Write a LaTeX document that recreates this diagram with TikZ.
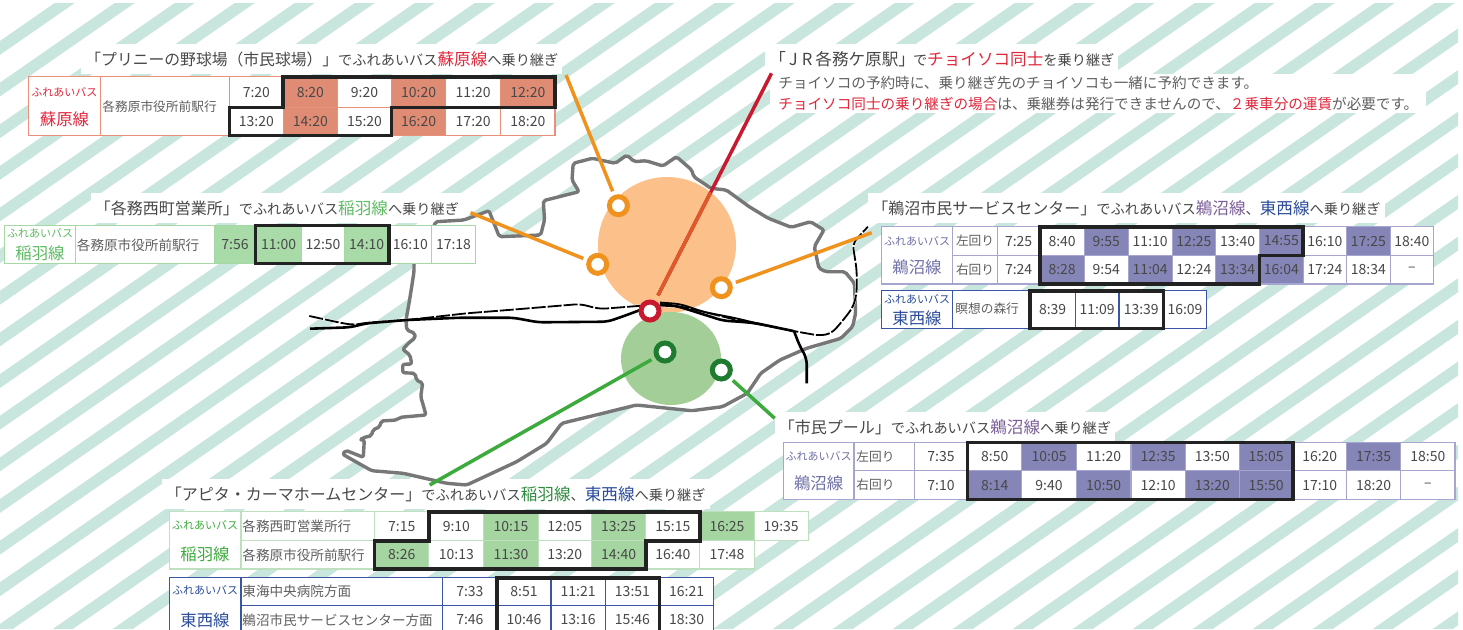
\documentclass[tikz,border=0pt]{standalone}
\usepackage{fontspec}
\setmainfont{Noto Sans CJK JP}
\definecolor{stripe}{HTML}{C8E6DE}
\definecolor{ink}{HTML}{484848}
\definecolor{soft}{HTML}{606060}
\definecolor{mapline}{HTML}{777777}
\definecolor{orgfill}{HTML}{FCC08A}
\definecolor{grnfill}{HTML}{A3CE98}
\definecolor{orgline}{HTML}{F0921E}
\definecolor{grnline}{HTML}{3DAA3D}
\definecolor{grnmark}{HTML}{1E7B30}
\definecolor{redline}{HTML}{C8192E}
\definecolor{redmix}{HTML}{DE5A2B}
\definecolor{txtred}{HTML}{E0283C}
\definecolor{salmonb}{HTML}{E8907A}
\definecolor{salmonf}{HTML}{E08C74}
\definecolor{leafb}{HTML}{A5D8A5}
\definecolor{leaff}{HTML}{A9DBA8}
\definecolor{leafc}{HTML}{5DBB63}
\definecolor{paleb}{HTML}{BFE0BF}
\definecolor{palef}{HTML}{A5D5A0}
\definecolor{lavb}{HTML}{A5A5D0}
\definecolor{lavf}{HTML}{8585B8}
\definecolor{lavc}{HTML}{6F6FA8}
\definecolor{lilac}{HTML}{7B5E9A}
\definecolor{blueb}{HTML}{3A55A5}
\definecolor{bluec}{HTML}{2B4C9B}
\definecolor{dgreen}{HTML}{2E8B3E}
\definecolor{thick}{HTML}{222222}
\newcounter{cellno}
\newcommand{\szL}{\fontsize{8.3pt}{10pt}\selectfont}
\newcommand{\szK}{\fontsize{8pt}{10pt}\selectfont}
\newcommand{\szA}{\fontsize{7.9pt}{10pt}\selectfont}
\newcommand{\szS}{\fontsize{7.1pt}{9pt}\selectfont}
\newcommand{\szE}{\fontsize{7.3pt}{9pt}\selectfont}
\newcommand{\szN}{\fontsize{6.8pt}{9pt}\selectfont}
\newcommand{\szT}{\fontsize{7pt}{9pt}\selectfont}
\newcommand{\szD}{\fontsize{6.35pt}{9pt}\selectfont}
\newcommand{\szB}{\fontsize{5.5pt}{7pt}\selectfont}
\newcommand{\szH}{\fontsize{8.2pt}{10pt}\selectfont}
% \cellbox{x0}{y0}{x1}{y1}{fill}{text}
\newcommand{\cellbox}[6]{\stepcounter{cellno}%
  \draw[cellline,fill=#5] (#1,#2) rectangle (#3,#4)
    node[midway,celltext,name=c\arabic{cellno}] {#6};}
\newcommand{\timerow}[3]{\foreach \xa/\xb/\tx/\fc in {#3}{\cellbox{\xa}{#1}{\xb}{#2}{\fc}{\szT\tx}}}
\tikzset{
  x=0.5pt,y=-0.5pt,
  cellline/.style={line width=0.55pt},
  celltext/.style={inner sep=0pt,text=ink},
  thickframe/.style={draw=thick,line width=1.8pt,line join=miter},
  titlebg/.style={fill=white,anchor=west,inner xsep=2pt,inner ysep=0pt,minimum height=15pt,text=ink},
  marker/.style={circle,draw=#1,fill=white,line width=2.5pt,minimum size=9pt,inner sep=0pt},
  feeder/.style={line width=1.75pt,shorten <=2pt},
  plainlabel/.style={inner sep=0pt},
  destlabel/.style={inner sep=0pt,anchor=west,text=soft},
  mapedge/.style={draw=mapline,line width=1.7pt,line join=round,fill=white,rounded corners=1pt},
  railsolid/.style={draw=black,line width=1.3pt,line join=round,rounded corners=3pt},
  railbase/.style={draw=white,line width=1.3pt,line join=round,rounded corners=3pt},
  raildash/.style={draw=black,line width=0.9pt,dash pattern=on 7pt off 1pt,line join=round,rounded corners=3pt},
}
\begin{document}
\begin{tikzpicture}
\clip (0,0) rectangle (1463,629);
\fill[white] (0,0) rectangle (1463,629);
% stripes
\begin{scope}
  \clip (0,3) rectangle (1458,629);
  \foreach \k in {0,...,40}{
    \pgfmathsetmacro\stc{59+60*\k}
    \fill[stripe] (\stc,0) -- (\stc+20,0) -- (\stc+20-906.3,629) -- (\stc-906.3,629) -- cycle;
  }
\end{scope}
% titles
\node[titlebg] (tA) at (81,59) {\szA 「プリニーの野球場（市民球場）」\szS でふれあいバス\textcolor{txtred}{\szL 蘇原線}\szS へ乗り継ぎ};
\node[titlebg] (tB) at (90.4,208) {\szK 「各務西町営業所」\szS でふれあいバス\textcolor{leafc}{\szL 稲羽線}\szS へ乗り継ぎ};
\node[titlebg] (tC) at (765,59) {\szL 「\hspace{1.5pt}J\hspace{2pt}R\hspace{1.5pt}各務ケ原駅」\hspace{-1pt}\szS で\textcolor{txtred}{\szL チョイソコ同士}\szS を乗り継ぎ};
\node[titlebg,minimum height=19.5pt,align=left,text=soft,inner xsep=4pt] (tC2) at (770,93) {\szE チョイソコの予約時に、乗り継ぎ先のチョイソコも一緒に予約できます。\\[-1.5pt]\szE\textcolor{txtred}{チョイソコ同士の乗り継ぎの場合}は、乗継券は発行できませんので、\textcolor{txtred}{２乗車分の運賃}が必要です。};
\node[titlebg] (tD) at (868,208) {\szK 「鵜沼市民サービスセンター」\szS でふれあいバス\textcolor{lilac}{\szL 鵜沼線}\szS 、\textcolor{bluec}{\szL 東西線}\szS へ乗り継ぎ};
\node[titlebg] (tF) at (774.5,427) {\szK 「市民プール」\szS でふれあいバス\textcolor{lilac}{\szL 鵜沼線}\szS へ乗り継ぎ};
\node[titlebg] (tG) at (161.5,494) {\szK 「アピタ・カーマホームセンター」\szS でふれあいバス\textcolor{dgreen}{\szL 稲羽線}\szS 、\textcolor{bluec}{\szL 東西線}\szS へ乗り継ぎ};
% map
\draw[mapedge] (435.4,221.7) -- (464,220) -- (489,210.7) -- (499.3,236.7) -- (540.7,235) -- (544.5,220) -- (543.3,200.7) -- (579,191.7) -- (572,180) -- (573.2,163.3) -- (592.3,158.3) -- (615.3,163.3) -- (626.8,155) -- (634.4,161.7) -- (645.9,160.7) -- (663,166) -- (676.5,156.7) -- (691.8,170) -- (693.7,176.7) -- (711,188.3) -- (726.3,190) -- (749.2,206.7) -- (768.4,218.3) -- (791.3,227.3) -- (810.5,221.7) -- (823.9,230) -- (814.3,246.7) -- (818.9,268.3) -- (825.8,271.7) -- (844.9,271.7) -- (854.5,283.3) -- (855.6,313.3) -- (852.6,326.7) -- (841,338.3) -- (806.6,348.3) -- (779.9,360) -- (760.7,373.3) -- (747.3,393.3) -- (722.5,406.7) -- (691.8,410.7) -- (636.3,405) -- (600,414) -- (561.7,423.3) -- (546.7,443.3) -- (516.7,461.7) -- (466.7,485) -- (446.7,483.3) -- (403.3,473.3) -- (371.7,470.7) -- (342.7,454.3) -- (345.7,450.3) -- (363.3,457.3) -- (364.3,440) -- (360,440) -- (363,437.7) -- (371.7,435.7) -- (372.7,430) -- (380,426.7) -- (381,421) -- (396.7,420) -- (400,417.3) -- (426,415) -- (422.7,403.3) -- (420.7,396.7) -- (422.7,382.7) -- (416.7,380.7) -- (415,373.3) -- (402.7,372.7) -- (402.7,364.3) -- (411.7,364) -- (410,355) -- (402.7,349.3) -- (410,341.7) -- (415,338.3) -- (415,333.3) -- (406.7,330) -- (406,320) -- (409.3,301.7) -- (411.7,286.7) -- (414,271.7) -- (414,262) -- (430,240) -- cycle;
% service areas
\fill[orgfill] (667,245) ellipse [x radius=69,y radius=68];
\fill[grnfill] (671,358.5) ellipse [x radius=50,y radius=46.5];
% rail
\path[railbase] (309.3,316) -- (340,322.7) -- (353.3,325) -- (366.7,322.7) -- (406.7,320) -- (466.7,313.3) -- (516.7,309.3) -- (580,304) -- (600,309) -- (650,305) -- (683,306.7) -- (736.7,320) -- (793.3,331) -- (820,335.7) -- (831.7,333.3) -- (843.3,320) -- (853.3,306.7) -- (856.7,293.3) -- (856.7,270) -- (852.6,243.3) -- (867.9,226.7);
\draw[raildash] (309.3,316) -- (340,322.7) -- (353.3,325) -- (366.7,322.7) -- (406.7,320) -- (466.7,313.3) -- (516.7,309.3) -- (580,304) -- (600,309) -- (650,305) -- (683,306.7) -- (736.7,320) -- (793.3,331) -- (820,335.7) -- (831.7,333.3) -- (843.3,320) -- (853.3,306.7) -- (856.7,293.3) -- (856.7,270) -- (852.6,243.3) -- (867.9,226.7);
\draw[railsolid] (310,328.7) -- (350,327.3) -- (366.7,323.3) -- (406.7,320) -- (460,317.7) -- (513.3,317.7) -- (538.3,322.3) -- (607.6,321.7) -- (626.8,315) -- (640,310);
\draw[railsolid] (660,304.3) -- (676.7,306) -- (700,313.3) -- (723.3,320.7) -- (740,321.7) -- (756.7,323.3) -- (793.3,331);
\draw[railsolid,line width=0.9pt] (660,302.5) -- (680,304) -- (704,312) -- (735,318) -- (760,324);
\draw[railsolid] (794,331) -- (799.3,345) -- (806.7,358.3) -- (806.7,383.3);
% markers
\node[marker=orgline] (m1) at (618.4,205.7) {};
\node[marker=orgline] (m2) at (597.7,264.3) {};
\node[marker=orgline] (m3) at (721.3,287.7) {};
\node[marker=redline] (m0) at (650,311) {};
\node[marker=grnmark] (m4) at (665,352) {};
\node[marker=grnmark] (m5) at (721.3,370) {};
% free ends
\coordinate (e1) at (566,75);
\coordinate (e2) at (470.6,212.7);
\coordinate (e3) at (871.7,232.7);
\coordinate (e0) at (771.5,73.3);
\coordinate (e4) at (429.7,485);
\coordinate (e5) at (774.7,418.3);
% connectors
\draw[feeder,orgline] (m1) -- (e1);
\draw[feeder,orgline] (m2) -- (e2);
\draw[feeder,orgline] (m3) -- (e3);
\draw[feeder,redline,shorten <=3pt] (m0) -- (e0);
\begin{scope}
  \clip (667,245) ellipse [x radius=69,y radius=68];
  \draw[feeder,redmix,shorten <=3pt] (m0) -- (e0);
\end{scope}
\draw[feeder,grnline] (m4) -- (e4);
\draw[feeder,grnline] (m5) -- (e5);
% table A: soharasen
\begin{scope}[cellline/.append style={draw=salmonb}]
  \cellbox{28.7}{76.7}{100.3}{135.3}{white}{}
  \node[plainlabel,text=txtred] (lA1) at (64.5,92) {\szB ふれあいバス};
  \node[plainlabel,text=txtred] (lA2) at (64.5,119) {\szH 蘇原線};
  \cellbox{100.3}{76.7}{229.6}{135.3}{white}{}
  \node[destlabel] (lA3) at (102,107) {\szD 各務原市役所前駅行};
  \timerow{76.7}{107.3}{229.6/283.2/7:20/white,283.2/337.5/8:20/salmonf,337.5/391.5/9:20/white,391.5/445.8/10:20/salmonf,445.8/500.6/11:20/white,500.6/555/12:20/salmonf}
  \timerow{107.3}{135.3}{229.6/283.2/13:20/white,283.2/337.5/14:20/salmonf,337.5/391.5/15:20/white,391.5/445.8/16:20/salmonf,445.8/500.6/17:20/white,500.6/555/18:20/white}
\end{scope}
\path[thickframe] (283.2,76.7) -- (555,76.7) -- (555,107.3) -- (391.5,107.3) -- (391.5,135.3) -- (229.6,135.3) -- (229.6,107.3) -- (283.2,107.3) -- cycle;
% table B: inabasen
\begin{scope}[cellline/.append style={draw=leafb}]
  \cellbox{4.6}{225.3}{75.8}{263.3}{white}{}
  \node[plainlabel,text=leafc] (lB1) at (40,233) {\szB ふれあいバス};
  \node[plainlabel,text=leafc] (lB2) at (40,253.5) {\szH 稲羽線};
  \cellbox{75.8}{225.3}{214.3}{263.3}{white}{}
  \node[destlabel] (lB3) at (76.5,245) {\szN 各務原市役所前駅行};
  \timerow{225.3}{263.3}{214.3/255.6/7:56/leaff,255.6/301.6/11:00/leaff,301.6/344.4/12:50/white,344.4/389/14:10/leaff,389/431.7/16:10/white,431.7/475.3/17:18/white}
\end{scope}
\path[thickframe] (255.6,225.3) rectangle (389,263.3);
% table D: unumasen
\begin{scope}[cellline/.append style={draw=lavb}]
  \cellbox{881.4}{226.7}{952.8}{284}{white}{}
  \node[plainlabel,text=lavc] (lD1) at (917,241) {\szB ふれあいバス};
  \node[plainlabel,text=lavc] (lD2) at (917,267) {\szH 鵜沼線};
  \cellbox{952.8}{226.7}{997.3}{255.3}{white}{\szD\textcolor{soft}{左回り}}
  \cellbox{952.8}{255.3}{997.3}{284}{white}{\szD\textcolor{soft}{右回り}}
  \timerow{226.7}{255.3}{997.3/1039.9/7:25/white,1039.9/1084.3/8:40/white,1084.3/1128.2/9:55/lavf,1128.2/1172.2/11:10/white,1172.2/1215.7/12:25/lavf,1215.7/1259.6/13:40/white,1259.6/1303.1/14:55/lavf,1303.1/1346.6/16:10/white,1346.6/1390.1/17:25/lavf,1390.1/1433.6/18:40/white}
  \timerow{255.3}{284}{997.3/1039.9/7:24/white,1039.9/1084.3/8:28/lavf,1084.3/1128.2/9:54/white,1128.2/1172.2/11:04/lavf,1172.2/1215.7/12:24/white,1215.7/1259.6/13:34/lavf,1259.6/1303.1/16:04/lavf,1303.1/1346.6/17:24/white,1346.6/1390.1/18:34/white,1390.1/1433.6/–/white}
\end{scope}
\path[thickframe] (1039.9,226.7) -- (1303.1,226.7) -- (1303.1,255.3) -- (1259.6,255.3) -- (1259.6,284) -- (1039.9,284) -- cycle;
% table E: tozaisen
\begin{scope}[cellline/.append style={draw=blueb}]
  \cellbox{881.4}{290.7}{952.8}{328.3}{white}{}
  \node[plainlabel,text=bluec] (lE1) at (917,299.3) {\szB ふれあいバス};
  \node[plainlabel,text=bluec] (lE2) at (917,318.5) {\szH 東西線};
  \cellbox{952.8}{290.7}{1030.2}{328.3}{white}{}
  \node[destlabel] (lE3) at (955,309) {\szD 瞑想の森行};
  \timerow{290.7}{328.3}{1030.2/1075.1/8:39/white,1075.1/1119/11:09/white,1119/1163.5/13:39/white,1163.5/1206.5/16:09/white}
\end{scope}
\path[thickframe] (1030.2,290.7) rectangle (1163.5,328.3);
% table F: pool
\begin{scope}[cellline/.append style={draw=lavb}]
  \cellbox{783.3}{442.3}{854}{499.3}{white}{}
  \node[plainlabel,text=lavc] (lF1) at (818.6,456.5) {\szB ふれあいバス};
  \node[plainlabel,text=lavc] (lF2) at (818.6,483) {\szH 鵜沼線};
  \cellbox{854}{442.3}{914.5}{470.7}{white}{}
  \cellbox{854}{470.7}{914.5}{499.3}{white}{}
  \node[destlabel] (lF3) at (856,456.5) {\szD 左回り};
  \node[destlabel] (lF4) at (856,485) {\szD 右回り};
  \timerow{442.3}{470.7}{914.5/967.5/7:35/white,967.5/1021.9/8:50/white,1021.9/1076.2/10:05/lavf,1076.2/1131/11:20/white,1131/1185.4/12:35/lavf,1185.4/1239.3/13:50/white,1239.3/1292.8/15:05/lavf,1292.8/1346.7/16:20/white,1346.7/1400.6/17:35/lavf,1400.6/1455/18:50/white}
  \timerow{470.7}{499.3}{914.5/967.5/7:10/white,967.5/1021.9/8:14/lavf,1021.9/1076.2/9:40/white,1076.2/1131/10:50/lavf,1131/1185.4/12:10/white,1185.4/1239.3/13:20/lavf,1239.3/1292.8/15:50/lavf,1292.8/1346.7/17:10/white,1346.7/1400.6/18:20/white,1400.6/1455/–/white}
\end{scope}
\path[thickframe] (967.5,442.3) rectangle (1292.8,499.3);
% table G: apita inabasen
\begin{scope}[cellline/.append style={draw=paleb}]
  \cellbox{169.5}{511.7}{241}{569}{white}{}
  \node[plainlabel,text=grnline] (lG1) at (205,525) {\szB ふれあいバス};
  \node[plainlabel,text=grnline] (lG2) at (205,554.3) {\szH 稲羽線};
  \cellbox{241}{511.7}{374.6}{540.7}{white}{}
  \node[destlabel] (lG3) at (242,526) {\szN 各務西町営業所行};
  \cellbox{241}{540.7}{374.6}{569}{white}{}
  \node[destlabel] (lG4) at (242,555) {\szN 各務原市役所前駅行};
  \timerow{511.7}{540.7}{374.6/428.8/7:15/white,428.8/483.9/9:10/white,483.9/538.1/10:15/palef,538.1/591.4/12:05/white,591.4/645.7/13:25/palef,645.7/699.9/15:15/white,699.9/754.1/16:25/palef,754.1/808.3/19:35/white}
  \timerow{540.7}{569}{374.6/428.8/8:26/palef,428.8/483.9/10:13/white,483.9/538.1/11:30/palef,538.1/591.4/13:20/white,591.4/645.7/14:40/palef,645.7/699.9/16:40/white,699.9/754.1/17:48/white}
\end{scope}
\path[thickframe] (428.8,511.7) -- (699.9,511.7) -- (699.9,540.7) -- (645.7,540.7) -- (645.7,569) -- (374.6,569) -- (374.6,540.7) -- (428.8,540.7) -- cycle;
% table H: apita tozaisen
\begin{scope}[cellline/.append style={draw=blueb}]
  \cellbox{169.5}{577.7}{241}{640}{white}{}
  \node[plainlabel,text=bluec] (lH1) at (205,590.7) {\szB ふれあいバス};
  \node[plainlabel,text=bluec] (lH2) at (205,620) {\szH 東西線};
  \cellbox{241}{577.7}{442.7}{605.7}{white}{}
  \node[destlabel] (lH3) at (242,591) {\szN 東海中央病院方面};
  \cellbox{241}{605.7}{442.7}{640}{white}{}
  \node[destlabel] (lH4) at (242,620) {\szN 鵜沼市民サービスセンター方面};
  \timerow{577.7}{605.7}{442.7/497/7:33/white,497/551/8:51/white,551/605.3/11:21/white,605.3/659.6/13:51/white,659.6/713.7/16:21/white}
  \timerow{605.7}{634}{442.7/497/7:46/white,497/551/10:46/white,551/605.3/13:16/white,605.3/659.6/15:46/white,659.6/713.7/18:30/white}
\end{scope}
\path[thickframe] (497,577.7) rectangle (659.6,640);
\end{tikzpicture}
\end{document}
